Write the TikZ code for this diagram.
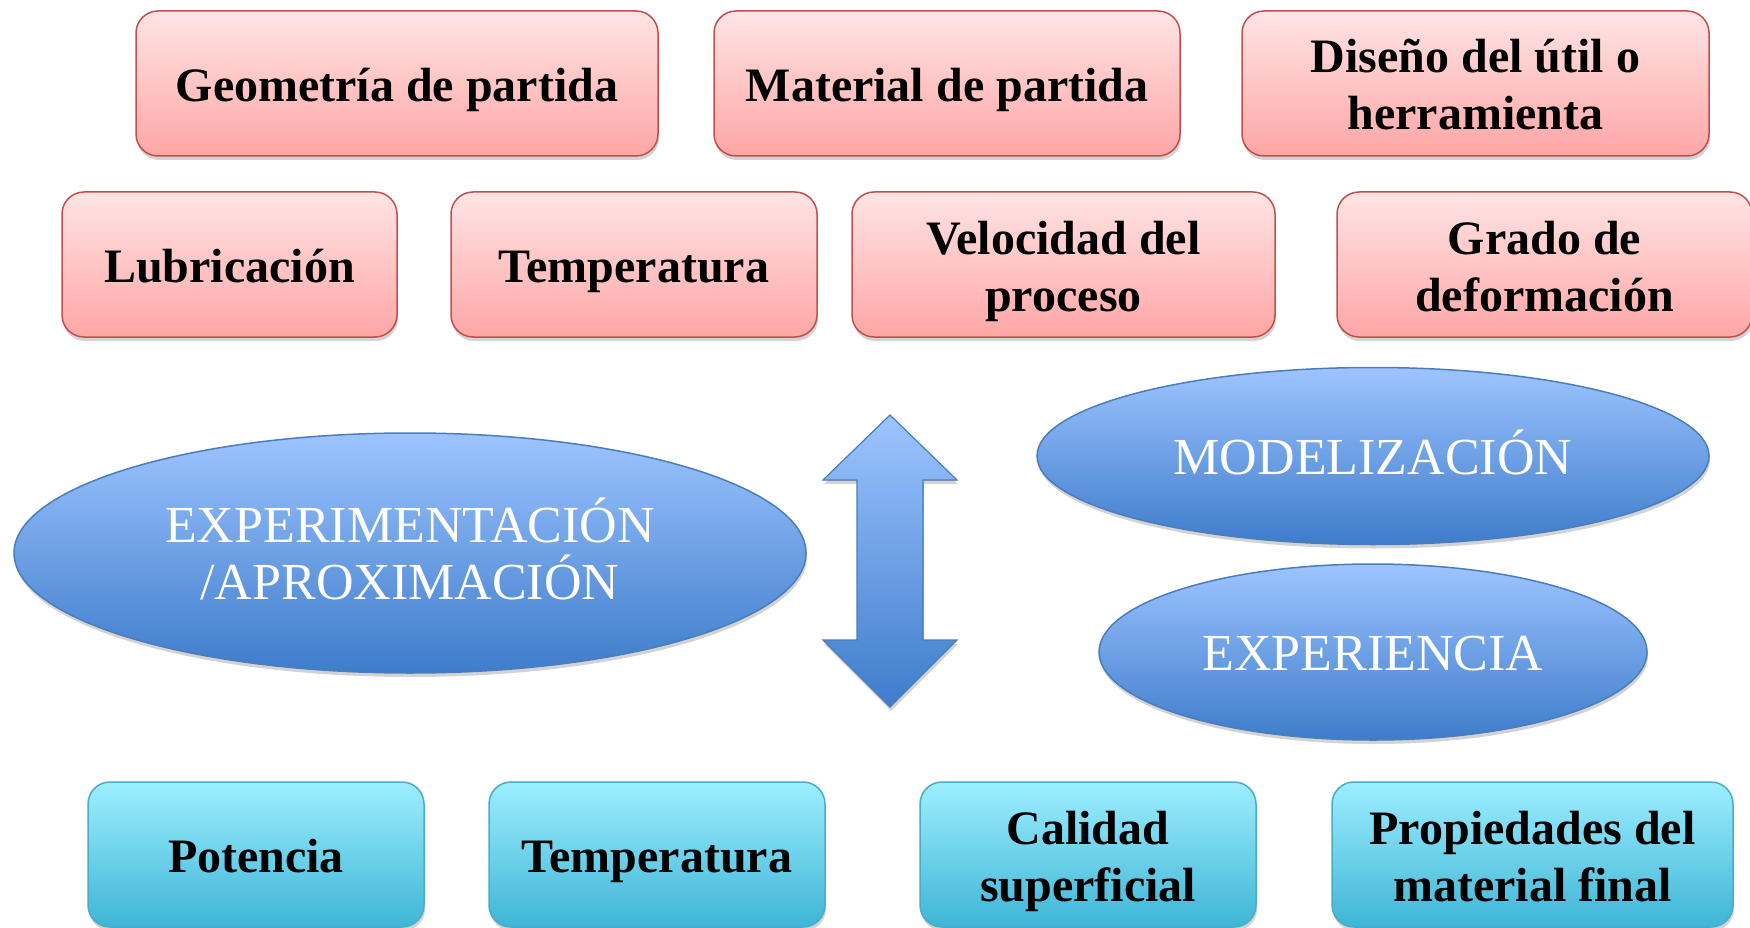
\documentclass[tikz,border=0pt]{standalone}
\usepackage{fontspec}
\setmainfont{Liberation Serif}
\usetikzlibrary{shapes.geometric,shadows,positioning}
\definecolor{rojoTop}{HTML}{FFE4E4}
\definecolor{rojoBot}{HTML}{FFA6A6}
\definecolor{rojoBorde}{HTML}{C0504D}
\definecolor{cianTop}{HTML}{9DEEFF}
\definecolor{cianBot}{HTML}{3FB5D6}
\definecolor{cianBorde}{HTML}{4BACC6}
\definecolor{azulTop}{HTML}{9DC4FF}
\definecolor{azulBot}{HTML}{3E7CCB}
\definecolor{azulBorde}{HTML}{4A7EBB}

\begin{document}
\begin{tikzpicture}[
    x=1pt, y=-1pt,
    sombra/.style={drop shadow={opacity=0.35, shadow xshift=1pt, shadow yshift=-4pt}},
    dos/.style={text height=93pt},
    factor/.style={draw=rojoBorde, line width=1.5pt, rounded corners=22pt, top color=rojoTop, bottom color=rojoBot,
                   minimum height=145pt, align=center, inner sep=0pt, sombra,
                   text height=36pt, text depth=0pt,
                   font=\fontsize{48}{57}\selectfont\bfseries},
    resultado/.style={factor, draw=cianBorde, top color=cianTop, bottom color=cianBot},
    metodo/.style={ellipse, draw=azulBorde, line width=1.5pt, top color=azulTop, bottom color=azulBot,
                   align=center, inner sep=0pt, text=white, sombra,
                   text height=36pt, text depth=0pt,
                   font=\fontsize{52}{57}\selectfont}
]
    \useasboundingbox (0,0) rectangle (1750,928);

    % variables de entrada
    \node[factor, minimum width=522pt] (geo) at (397,83.5) {Geometría de partida};
    \node[factor, minimum width=466pt] (mat) at (947,83.5) {Material de partida};
    \node[factor, dos, minimum width=467pt] (dis) at (1475.5,83.5) {Diseño del útil o\\herramienta};

    \node[factor, minimum width=335pt] (lub) at (229.5,264.5) {Lubricación};
    \node[factor, minimum width=366pt] (tem) at (634,264.5) {Temperatura};
    \node[factor, dos, minimum width=423pt] (vel) at (1063.5,264.5) {Velocidad del\\proceso};
    \node[factor, dos, minimum width=415pt] (gra) at (1544.5,264.5) {Grado de\\deformación};

    % metodos
    \node[metodo, dos, minimum width=792pt, minimum height=240pt] (exp) at (410,553) {EXPERIMENTACIÓN\\/APROXIMACIÓN};
    \node[metodo, minimum width=672pt, minimum height=177pt] (mod) at (1373,456) {MODELIZACIÓN};
    \node[metodo, minimum width=548pt, minimum height=176pt] (xpc) at (1373,652) {EXPERIENCIA};

    \filldraw[draw=azulBorde, line width=1.2pt, top color=azulTop, bottom color=azulBot, sombra]
        (890,415) -- (957,480) -- (923,480) -- (923,640) -- (957,640) -- (890,707)
        -- (823,640) -- (857,640) -- (857,480) -- (823,480) -- cycle;

    % resultados
    \node[resultado, minimum width=336pt] (pot) at (256,854.5) {Potencia};
    \node[resultado, minimum width=336pt] (tem2) at (657,854.5) {Temperatura};
    \node[resultado, dos, minimum width=336pt] (cal) at (1088,854.5) {Calidad\\superficial};
    \node[resultado, dos, minimum width=401pt] (pro) at (1532.5,854.5) {Propiedades del\\material final};
\end{tikzpicture}
\end{document}
